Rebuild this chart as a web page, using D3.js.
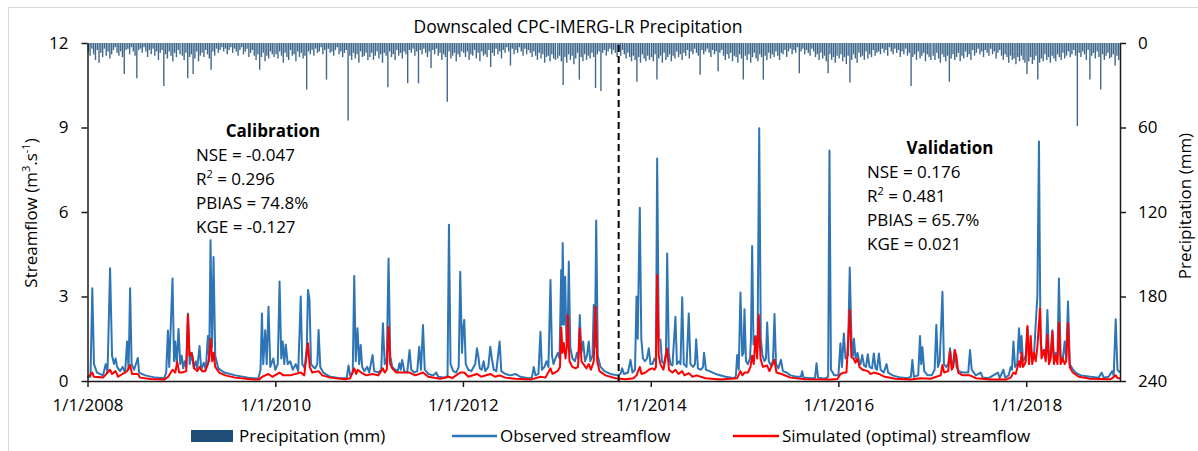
<!DOCTYPE html>
<html>
<head>
<meta charset="utf-8">
<script src="https://cdn.jsdelivr.net/npm/d3@7"></script>
<style>
  body { margin: 0; background: #fff; }
  svg { font-family: "Open Sans", sans-serif; }
</style>
</head>
<body>
<svg id="chart" width="1198" height="451"></svg>
<script>
// streamflow: [decimal year, m3/s]
const observed = [
  [2008.000,0.15],[2008.032,0.15],[2008.051,3.29],[2008.069,0.6],[2008.101,0.3],[2008.165,0.2],[2008.194,0.6],[2008.213,0.3],[2008.240,4.0],[2008.261,0.9],[2008.282,0.6],[2008.299,0.8],[2008.315,0.5],[2008.346,0.35],[2008.373,0.5],[2008.400,0.3],[2008.421,1.4],[2008.437,0.4],[2008.453,3.29],[2008.469,0.6],[2008.496,0.4],[2008.535,0.82],[2008.549,0.3],[2008.613,0.2],[2008.720,0.12],[2008.816,0.1],
  [2008.837,0.3],[2008.855,1.79],[2008.869,0.5],[2008.904,3.64],[2008.920,0.7],[2008.933,1.4],[2008.949,0.6],[2008.968,1.85],[2008.986,0.6],[2009.002,0.9],[2009.018,0.45],[2009.034,0.7],[2009.050,0.5],[2009.068,2.4],[2009.087,0.6],[2009.111,1.0],[2009.130,0.45],[2009.151,0.7],[2009.167,0.45],[2009.192,1.24],[2009.210,0.4],[2009.237,0.65],[2009.258,0.4],[2009.281,1.6],[2009.295,0.7],[2009.309,5.0],[2009.325,1.2],[2009.341,4.4],[2009.359,0.9],[2009.391,0.45],[2009.455,0.3],[2009.573,0.2],[2009.711,0.12],[2009.818,0.08],
  [2009.842,0.4],[2009.857,2.4],[2009.871,0.6],[2009.892,1.8],[2009.908,0.6],[2009.927,2.64],[2009.946,0.5],[2009.978,0.8],[2009.999,0.4],[2010.026,0.6],[2010.045,3.53],[2010.063,0.8],[2010.079,1.4],[2010.095,0.6],[2010.111,1.3],[2010.132,0.6],[2010.159,0.7],[2010.186,0.4],[2010.218,0.6],[2010.244,0.35],[2010.271,3.0],[2010.287,0.6],[2010.313,0.45],[2010.335,1.2],[2010.348,3.23],[2010.364,2.9],[2010.380,0.6],[2010.404,0.5],[2010.425,0.45],[2010.447,0.6],[2010.461,1.81],[2010.479,0.5],[2010.511,0.3],[2010.585,0.15],[2010.692,0.1],
  [2010.761,0.1],[2010.780,0.55],[2010.798,0.2],[2010.825,0.3],[2010.841,3.73],[2010.857,0.7],[2010.876,1.87],[2010.894,0.6],[2010.910,1.28],[2010.926,0.5],[2010.948,0.35],[2010.980,0.5],[2011.001,0.3],[2011.036,0.92],[2011.054,0.35],[2011.097,0.3],[2011.129,0.4],[2011.147,2.05],[2011.166,0.6],[2011.188,0.8],[2011.207,4.35],[2011.225,0.9],[2011.246,0.5],[2011.278,0.4],[2011.305,0.35],[2011.324,0.63],[2011.337,0.4],[2011.353,0.75],[2011.374,0.35],[2011.406,0.3],[2011.431,1.1],[2011.449,0.4],[2011.481,0.3],[2011.513,0.35],[2011.534,1.22],[2011.553,0.4],[2011.574,1.99],[2011.593,0.4],[2011.630,0.25],[2011.683,0.2],[2011.715,0.3],[2011.737,0.15],[2011.811,0.12],[2011.836,0.2],
  [2011.851,5.55],[2011.868,0.6],[2011.897,0.35],[2011.929,0.3],[2011.955,0.5],[2011.971,3.88],[2011.990,1.0],[2012.001,1.8],[2012.014,2.17],[2012.030,0.6],[2012.057,0.4],[2012.089,0.35],[2012.131,0.6],[2012.149,1.16],[2012.163,0.9],[2012.179,0.45],[2012.200,0.4],[2012.220,0.7],[2012.238,0.35],[2012.270,0.5],[2012.291,1.22],[2012.307,0.8],[2012.328,0.4],[2012.355,0.35],[2012.390,1.4],[2012.408,0.35],[2012.451,0.25],[2012.504,0.2],[2012.558,0.25],[2012.611,0.15],[2012.696,0.1],
  [2012.733,0.12],[2012.753,0.5],[2012.771,0.2],[2012.803,0.25],[2012.824,1.75],[2012.840,0.4],[2012.867,0.5],[2012.888,0.7],[2012.909,0.5],[2012.931,3.59],[2012.947,0.9],[2012.963,0.6],[2012.984,0.8],[2013.009,1.0],[2013.027,0.8],[2013.045,3.94],[2013.053,2.0],[2013.061,4.9],[2013.074,2.0],[2013.087,3.7],[2013.101,1.4],[2013.112,1.2],[2013.126,4.24],[2013.142,1.2],[2013.165,0.8],[2013.192,0.7],[2013.213,1.0],[2013.229,0.8],[2013.243,2.34],[2013.259,1.0],[2013.279,1.4],[2013.299,0.7],[2013.320,0.9],[2013.339,1.4],[2013.355,0.7],[2013.379,0.9],[2013.392,2.7],[2013.405,1.2],[2013.418,5.7],[2013.435,0.9],[2013.464,0.5],[2013.506,0.35],[2013.570,0.25],[2013.645,0.2],
  [2013.677,0.25],[2013.695,0.45],[2013.714,0.25],[2013.757,0.3],[2013.784,0.75],[2013.805,0.3],[2013.832,0.4],[2013.848,3.0],[2013.861,1.5],[2013.872,3.94],[2013.883,6.15],[2013.899,1.5],[2013.917,0.8],[2013.938,0.7],[2013.959,0.8],[2013.979,1.16],[2013.997,0.6],[2014.018,0.6],[2014.039,0.8],[2014.055,0.7],[2014.068,7.9],[2014.085,1.5],[2014.103,1.46],[2014.119,0.7],[2014.141,0.6],[2014.162,1.0],[2014.175,4.53],[2014.192,1.0],[2014.210,0.6],[2014.231,0.55],[2014.263,2.28],[2014.279,0.6],[2014.301,0.7],[2014.317,0.6],[2014.335,2.97],[2014.352,0.6],[2014.381,0.5],[2014.405,2.4],[2014.423,0.6],[2014.450,0.5],[2014.471,0.6],[2014.484,1.48],[2014.503,0.45],[2014.535,0.4],[2014.557,0.5],[2014.568,1.0],[2014.588,0.4],[2014.626,0.35],[2014.690,0.25],[2014.797,0.15],[2014.893,0.1],
  [2014.908,0.2],[2014.921,0.92],[2014.938,0.4],[2014.956,3.14],[2014.975,0.9],[2014.988,1.0],[2014.999,2.55],[2015.015,0.7],[2015.036,0.6],[2015.058,0.8],[2015.068,1.5],[2015.081,4.79],[2015.095,1.3],[2015.116,1.6],[2015.138,1.2],[2015.156,8.97],[2015.173,1.5],[2015.191,0.9],[2015.212,0.7],[2015.228,0.8],[2015.241,2.08],[2015.258,0.7],[2015.281,0.55],[2015.303,0.7],[2015.319,2.38],[2015.335,0.6],[2015.361,0.45],[2015.388,0.75],[2015.409,0.35],[2015.447,0.3],[2015.489,0.2],[2015.553,0.15],[2015.601,0.15],[2015.614,0.35],[2015.628,0.12],[2015.703,0.1],[2015.751,0.1],[2015.767,0.63],[2015.783,0.12],[2015.852,0.08],[2015.891,0.15],[2015.905,8.18],[2015.921,0.4],[2015.958,0.2],[2016.001,0.2],
  [2016.022,1.34],[2016.038,0.5],[2016.058,1.69],[2016.076,0.8],[2016.102,0.9],[2016.121,4.03],[2016.139,1.5],[2016.155,0.9],[2016.166,1.5],[2016.183,0.8],[2016.204,1.0],[2016.220,0.7],[2016.236,0.6],[2016.254,0.92],[2016.273,0.55],[2016.294,0.5],[2016.313,0.95],[2016.331,0.5],[2016.358,0.45],[2016.377,0.98],[2016.395,0.45],[2016.411,0.4],[2016.431,0.98],[2016.449,0.4],[2016.481,0.3],[2016.513,0.6],[2016.529,0.3],[2016.577,0.2],[2016.662,0.12],[2016.737,0.1],[2016.771,0.15],[2016.787,0.75],[2016.803,0.15],[2016.849,0.2],[2016.868,1.6],[2016.881,0.6],[2016.894,1.2],[2016.913,0.35],[2016.950,0.2],[2016.992,0.2],
  [2017.024,0.4],[2017.042,2.0],[2017.059,0.5],[2017.078,0.7],[2017.107,3.17],[2017.123,0.6],[2017.147,0.5],[2017.168,0.6],[2017.188,1.16],[2017.206,0.6],[2017.222,0.6],[2017.238,1.1],[2017.257,0.5],[2017.281,0.35],[2017.323,0.3],[2017.382,0.3],[2017.401,1.1],[2017.419,0.4],[2017.462,0.2],[2017.515,0.3],[2017.536,0.12],[2017.600,0.1],[2017.699,0.3],[2017.717,0.1],[2017.757,0.4],[2017.776,0.12],
  [2017.813,0.2],[2017.835,0.5],[2017.848,0.4],[2017.864,1.4],[2017.881,0.5],[2017.904,0.6],[2017.923,1.87],[2017.937,1.0],[2017.950,1.6],[2017.966,0.7],[2017.984,0.8],[2017.995,0.9],[2018.013,1.9],[2018.030,0.8],[2018.048,1.3],[2018.064,0.7],[2018.083,0.9],[2018.101,2.0],[2018.119,3.0],[2018.136,8.5],[2018.152,1.5],[2018.171,0.9],[2018.190,1.1],[2018.208,0.8],[2018.226,2.52],[2018.243,0.8],[2018.261,0.9],[2018.279,1.8],[2018.296,0.7],[2018.314,1.0],[2018.333,0.8],[2018.349,3.64],[2018.367,0.9],[2018.388,0.7],[2018.410,1.4],[2018.426,0.8],[2018.446,2.82],[2018.464,0.6],[2018.490,0.45],[2018.527,0.3],[2018.581,0.2],[2018.687,0.15],[2018.773,0.12],[2018.805,0.3],[2018.826,0.12],[2018.879,0.15],[2018.917,0.35],[2018.933,0.2],[2018.954,2.19],[2018.973,0.4],[2019.000,0.3]
];

const simulated = [
  [2008.000,0.12],[2008.051,0.3],[2008.069,0.15],[2008.165,0.12],[2008.240,0.4],[2008.261,0.25],[2008.299,0.35],[2008.325,0.15],[2008.421,0.35],[2008.453,0.57],[2008.474,0.25],[2008.535,0.25],[2008.560,0.12],[2008.666,0.07],[2008.816,0.05],
  [2008.858,0.15],[2008.904,0.4],[2008.933,0.3],[2008.954,0.68],[2008.975,0.3],[2009.007,0.3],[2009.050,0.35],[2009.068,2.35],[2009.085,0.9],[2009.098,1.0],[2009.114,0.9],[2009.135,0.45],[2009.167,0.35],[2009.192,0.5],[2009.220,0.35],[2009.252,0.35],[2009.281,0.6],[2009.295,0.86],[2009.311,1.5],[2009.327,0.7],[2009.343,1.0],[2009.359,0.5],[2009.402,0.3],[2009.466,0.2],[2009.573,0.12],[2009.732,0.06],[2009.828,0.05],
  [2009.860,0.15],[2009.927,0.25],[2009.967,0.15],[2010.045,0.3],[2010.084,0.2],[2010.159,0.2],[2010.271,0.3],[2010.308,0.2],[2010.348,1.34],[2010.367,0.5],[2010.393,0.3],[2010.461,0.35],[2010.500,0.2],[2010.585,0.12],[2010.745,0.06],
  [2010.798,0.1],[2010.841,0.45],[2010.862,0.25],[2010.878,0.4],[2010.916,0.3],[2010.969,0.2],[2011.038,0.25],[2011.097,0.2],[2011.147,0.45],[2011.166,0.3],[2011.188,0.4],[2011.207,1.93],[2011.225,0.6],[2011.246,0.45],[2011.289,0.3],[2011.353,0.3],[2011.431,0.3],[2011.492,0.2],[2011.574,0.3],[2011.630,0.15],[2011.758,0.08],
  [2011.851,0.15],[2011.886,0.1],[2011.971,0.3],[2012.014,0.3],[2012.057,0.15],[2012.149,0.25],[2012.195,0.15],[2012.291,0.25],[2012.344,0.15],[2012.390,0.2],[2012.451,0.12],[2012.558,0.08],[2012.718,0.05],
  [2012.824,0.15],[2012.877,0.12],[2012.931,0.45],[2012.952,0.25],[2013.005,0.35],[2013.032,0.5],[2013.046,1.9],[2013.059,1.0],[2013.073,1.35],[2013.091,0.8],[2013.104,1.2],[2013.115,2.34],[2013.133,0.7],[2013.165,0.5],[2013.197,0.45],[2013.224,0.5],[2013.243,1.87],[2013.261,0.7],[2013.282,0.6],[2013.314,0.45],[2013.339,0.6],[2013.362,0.4],[2013.392,0.7],[2013.410,2.64],[2013.429,0.7],[2013.453,0.35],[2013.517,0.2],[2013.624,0.1],[2013.730,0.06],
  [2013.816,0.1],[2013.848,0.2],[2013.883,0.5],[2013.901,0.25],[2013.944,0.3],[2013.979,0.4],[2014.015,0.45],[2014.039,0.4],[2014.055,0.5],[2014.068,3.76],[2014.085,0.9],[2014.103,0.6],[2014.135,0.4],[2014.175,1.15],[2014.194,0.4],[2014.231,0.3],[2014.263,0.4],[2014.295,0.25],[2014.335,0.35],[2014.359,0.2],[2014.405,0.28],[2014.445,0.15],[2014.487,0.2],[2014.583,0.1],[2014.743,0.05],
  [2014.921,0.1],[2014.956,0.35],[2014.977,0.2],[2014.999,0.3],[2015.036,0.3],[2015.063,0.5],[2015.081,0.9],[2015.098,0.6],[2015.116,1.57],[2015.134,0.8],[2015.151,2.34],[2015.170,0.8],[2015.196,0.5],[2015.241,0.55],[2015.265,0.35],[2015.319,0.75],[2015.340,0.3],[2015.394,0.25],[2015.489,0.12],[2015.649,0.06],[2015.916,0.05],
  [2015.990,0.07],[2016.022,0.25],[2016.058,0.3],[2016.086,0.3],[2016.121,2.52],[2016.139,0.85],[2016.161,0.8],[2016.183,0.65],[2016.204,0.8],[2016.225,0.5],[2016.257,0.4],[2016.313,0.35],[2016.342,0.25],[2016.377,0.3],[2016.431,0.25],[2016.492,0.15],[2016.609,0.08],[2016.769,0.05],
  [2016.875,0.1],[2016.982,0.08],[2017.042,0.15],[2017.088,0.2],[2017.107,0.57],[2017.125,0.3],[2017.168,0.35],[2017.188,1.05],[2017.206,0.4],[2017.222,0.5],[2017.238,1.1],[2017.257,0.85],[2017.275,0.3],[2017.323,0.2],[2017.401,0.2],[2017.462,0.1],[2017.622,0.05],[2017.782,0.05],
  [2017.835,0.12],[2017.864,0.3],[2017.888,0.25],[2017.904,0.45],[2017.923,0.7],[2017.937,0.5],[2017.950,1.0],[2017.966,0.5],[2017.984,0.6],[2017.995,0.7],[2018.013,1.95],[2018.030,0.6],[2018.048,1.6],[2018.064,0.6],[2018.083,1.0],[2018.101,0.7],[2018.119,1.2],[2018.147,2.58],[2018.163,0.8],[2018.190,1.1],[2018.208,0.7],[2018.226,1.63],[2018.243,0.6],[2018.261,0.8],[2018.279,1.75],[2018.296,0.6],[2018.314,0.9],[2018.333,0.6],[2018.349,2.07],[2018.367,0.6],[2018.388,0.8],[2018.410,0.6],[2018.426,0.7],[2018.446,2.06],[2018.464,0.5],[2018.496,0.3],[2018.560,0.15],[2018.687,0.08],[2018.900,0.06],[2018.954,0.2],[2018.975,0.1],[2019.000,0.1]
];

// precipitation, one bar per week (mm), longest visible daily value in that week
const p2008 = [6,9,4,8,12,5,14,7,10,4,9,6,11,8,5,3,7,9,6,10,22,5,4,8,3,6,9,25,5,4,7,3,6,10,5,8,4,9,6,12,7,5,30.5,8,11,6,9,13,7,10,5,8];
const p2009 = [9,12,7,25,10,8,22,11,6,13,9,7,10,5,8,11,19,6,9,4,7,5,3,6,4,8,5,3,7,4,6,9,5,3,8,6,4,10,7,5,9,12,8,19,10,7,13,9,11,6,8,10];
const p2010 = [8,11,6,9,14,7,10,12,5,9,8,13,6,10,7,11,9,33,6,8,5,9,4,7,6,3,8,5,26,4,7,6,9,5,3,8,6,10,7,5,55,9,12,7,11,8,14,6,10,9,7,12];
const p2011 = [10,7,12,9,6,11,8,14,7,9,31.5,6,10,8,12,5,9,7,11,6,8,28.6,5,7,4,9,6,28.6,5,8,4,7,10,6,17.8,5,8,4,9,7,12,8,10,41.7,6,11,9,7,13,8,10,6];
const p2012 = [7,10,6,12,8,9,5,11,7,13,6,9,8,10,5,17,7,9,4,8,6,11,5,7,3,6,16,4,8,5,7,3,6,9,4,8,5,7,10,6,9,12,7,11,8,14,10,9,13,8,11,12];
const p2013 = [11,9,13,29.8,10,14,8,12,9,15,11,7,26,10,13,8,12,9,11,7,10,32,8,6,34,7,5,9,6,4,8,5,7,10,6,9,5,8,11,7,10,13,9,12,27.5,10,14,8,11,13,9,12];
const p2014 = [10,13,8,26,11,9,14,7,12,10,8,13,9,11,6,10,8,12,7,9,5,11,6,8,4,7,9,22.5,5,8,6,4,7,10,5,8,6,20,7,5,9,12,8,11,7,13,9,10,14,8,11,26];
const p2015 = [9,12,8,14,10,7,11,13,8,10,26,9,12,7,11,8,10,6,9,12,7,8,5,10,6,4,8,5,7,3,21.5,6,4,8,5,7,9,4,6,10,8,12,7,11,9,13,21.5,8,12,10,14,9];
const p2016 = [11,8,13,10,15,9,28,12,8,11,14,7,10,9,12,6,11,8,10,5,9,7,6,8,4,7,5,9,3,6,8,4,7,5,10,6,8,4,9,7,30.5,10,8,12,6,11,9,7,13,8,10,12];
const p2017 = [9,12,7,11,14,8,10,13,9,27.5,11,8,12,10,7,13,9,11,6,10,8,12,5,9,7,4,8,6,10,5,7,9,4,8,6,11,7,5,9,12,8,10,14,9,12,11,15,10,13,9,12,14];
const p2018 = [22,13,10,15,12,9,26,14,11,13,8,12,10,14,9,11,13,8,10,12,7,11,9,6,10,8,5,9,59,7,10,6,8,12,5,26,9,7,11,6,10,33,8,12,9,7,11,10,8,16,9,12];
const precipYears = [2008,2009,2010,2011,2012,2013,2014,2015,2016,2017,2018];
const precipWeekly = [p2008,p2009,p2010,p2011,p2012,p2013,p2014,p2015,p2016,p2017,p2018];

const flowTicks = [0, 3, 6, 9, 12];
const precipTicks = [0, 60, 120, 180, 240];
const tickYears = [2008, 2010, 2012, 2014, 2016, 2018];
const calibrationEnd = "2013-08-29";
const calibrationStats = [["NSE", "-0.047"], ["R2", "0.296"], ["PBIAS", "74.8%"], ["KGE", "-0.127"]];
const validationStats = [["NSE", "0.176"], ["R2", "0.481"], ["PBIAS", "65.7%"], ["KGE", "0.021"]];

const blue = "#2E75B6", red = "#FF0000", navy = "#1F4E79", axisColor = "#1a1a1a";

const toDate = t => {
  const y = Math.floor(t);
  const a = new Date(y, 0, 1), b = new Date(y + 1, 0, 1);
  return new Date(+a + (t - y) * (b - a));
};

const precip = [];
precipWeekly.forEach((arr, i) => {
  arr.forEach((mm, w) => {
    precip.push({ date: d3.timeDay.offset(new Date(precipYears[i], 0, 1), w * 7 + 3), mm });
  });
});

const svg = d3.select("#chart");
const plotLeft = 87.5, plotRight = 1120, plotTop = 43, plotBottom = 381;

const x = d3.scaleTime().domain([new Date(2008, 0, 1), new Date(2019, 0, 1)]).range([plotLeft, plotRight]);
const yQ = d3.scaleLinear().domain([0, 12]).range([plotBottom, plotTop]);
const yP = d3.scaleLinear().domain([0, 240]).range([plotTop, plotBottom]);

// light frame around the figure
svg.append("rect").attr("x", 8.5).attr("y", 7.5).attr("width", 1220).attr("height", 460)
  .attr("fill", "none").attr("stroke", "#d9d9d9");

// precipitation hanging from the top
svg.append("g").selectAll("line").data(precip).join("line")
  .attr("x1", d => x(d.date)).attr("x2", d => x(d.date))
  .attr("y1", yP(0)).attr("y2", d => yP(d.mm))
  .attr("stroke", navy).attr("stroke-width", 1.4).attr("opacity", 0.85);

const line = d3.line().x(d => x(toDate(d[0]))).y(d => yQ(d[1]));

svg.append("path").datum(observed).attr("d", line)
  .attr("fill", "none").attr("stroke", blue).attr("stroke-width", 2).attr("stroke-linejoin", "round");
svg.append("path").datum(simulated).attr("d", line)
  .attr("fill", "none").attr("stroke", red).attr("stroke-width", 2).attr("stroke-linejoin", "round");

// calibration / validation split
const splitX = x(new Date(calibrationEnd));
svg.append("line").attr("x1", splitX).attr("x2", splitX).attr("y1", 45).attr("y2", plotBottom)
  .attr("stroke", "#000").attr("stroke-width", 2).attr("stroke-dasharray", "7,4");

// axes
const fontSize = 17;
const styleAxis = g => {
  g.selectAll(".domain, .tick line").attr("stroke", axisColor).attr("stroke-width", 1.5);
  g.selectAll("text").attr("fill", "#000").style("font-size", fontSize + "px")
    .style("font-family", '"Open Sans", sans-serif');
};

svg.append("g").attr("transform", `translate(${plotLeft},0)`)
  .call(d3.axisLeft(yQ).tickValues(flowTicks).tickSize(6).tickSizeOuter(0).tickPadding(13))
  .call(styleAxis);

svg.append("g").attr("transform", `translate(${plotRight},0)`)
  .call(d3.axisRight(yP).tickValues(precipTicks).tickSize(6).tickSizeOuter(0).tickPadding(12))
  .call(styleAxis);

svg.append("g").attr("transform", `translate(0,${plotBottom})`)
  .call(d3.axisBottom(x).tickValues(tickYears.map(y => new Date(y, 0, 1)))
    .tickFormat(d3.timeFormat("%-m/%-d/%Y")).tickSize(6).tickSizeOuter(0).tickPadding(12))
  .call(styleAxis);

// title and axis titles
svg.append("text").attr("x", 578).attr("y", 33).attr("text-anchor", "middle")
  .style("font-size", "17.5px").text("Downscaled CPC-IMERG-LR Precipitation");

const yTitle = svg.append("text").attr("transform", "translate(37,213) rotate(-90)")
  .attr("text-anchor", "middle").style("font-size", fontSize + "px");
yTitle.append("tspan").text("Streamflow (m");
yTitle.append("tspan").attr("baseline-shift", "super").style("font-size", "11px").text("3");
yTitle.append("tspan").text(".s");
yTitle.append("tspan").attr("baseline-shift", "super").style("font-size", "11px").text("-1");
yTitle.append("tspan").text(")");

svg.append("text").attr("transform", "translate(1191,206) rotate(-90)")
  .attr("text-anchor", "middle").style("font-size", fontSize + "px").text("Precipitation (mm)");

// statistics blocks
function statBlock(title, titleX, titleY, textX, stats) {
  svg.append("text").attr("x", titleX).attr("y", titleY).attr("text-anchor", "middle")
    .style("font-size", fontSize + "px").style("font-weight", "bold").text(title);
  stats.forEach((s, i) => {
    const t = svg.append("text").attr("x", textX).attr("y", titleY + 24 * (i + 1))
      .style("font-size", fontSize + "px");
    if (s[0] === "R2") {
      t.append("tspan").text("R");
      t.append("tspan").attr("baseline-shift", "super").style("font-size", "11px").text("2");
      t.append("tspan").text(" = " + s[1]);
    } else {
      t.text(s[0] + " = " + s[1]);
    }
  });
}
statBlock("Calibration", 273, 137, 196, calibrationStats);
statBlock("Validation", 950, 154, 867, validationStats);

// legend
const legend = svg.append("g").style("font-size", fontSize + "px");
legend.append("rect").attr("x", 191).attr("y", 430).attr("width", 42).attr("height", 12).attr("fill", navy);
legend.append("text").attr("x", 239).attr("y", 442).text("Precipitation (mm)");
legend.append("line").attr("x1", 452).attr("x2", 497).attr("y1", 436).attr("y2", 436)
  .attr("stroke", blue).attr("stroke-width", 2.5);
legend.append("text").attr("x", 500).attr("y", 442).text("Observed streamflow");
legend.append("line").attr("x1", 733).attr("x2", 779).attr("y1", 436).attr("y2", 436)
  .attr("stroke", red).attr("stroke-width", 2.5);
legend.append("text").attr("x", 782).attr("y", 442).text("Simulated (optimal) streamflow");
</script>
</body>
</html>
